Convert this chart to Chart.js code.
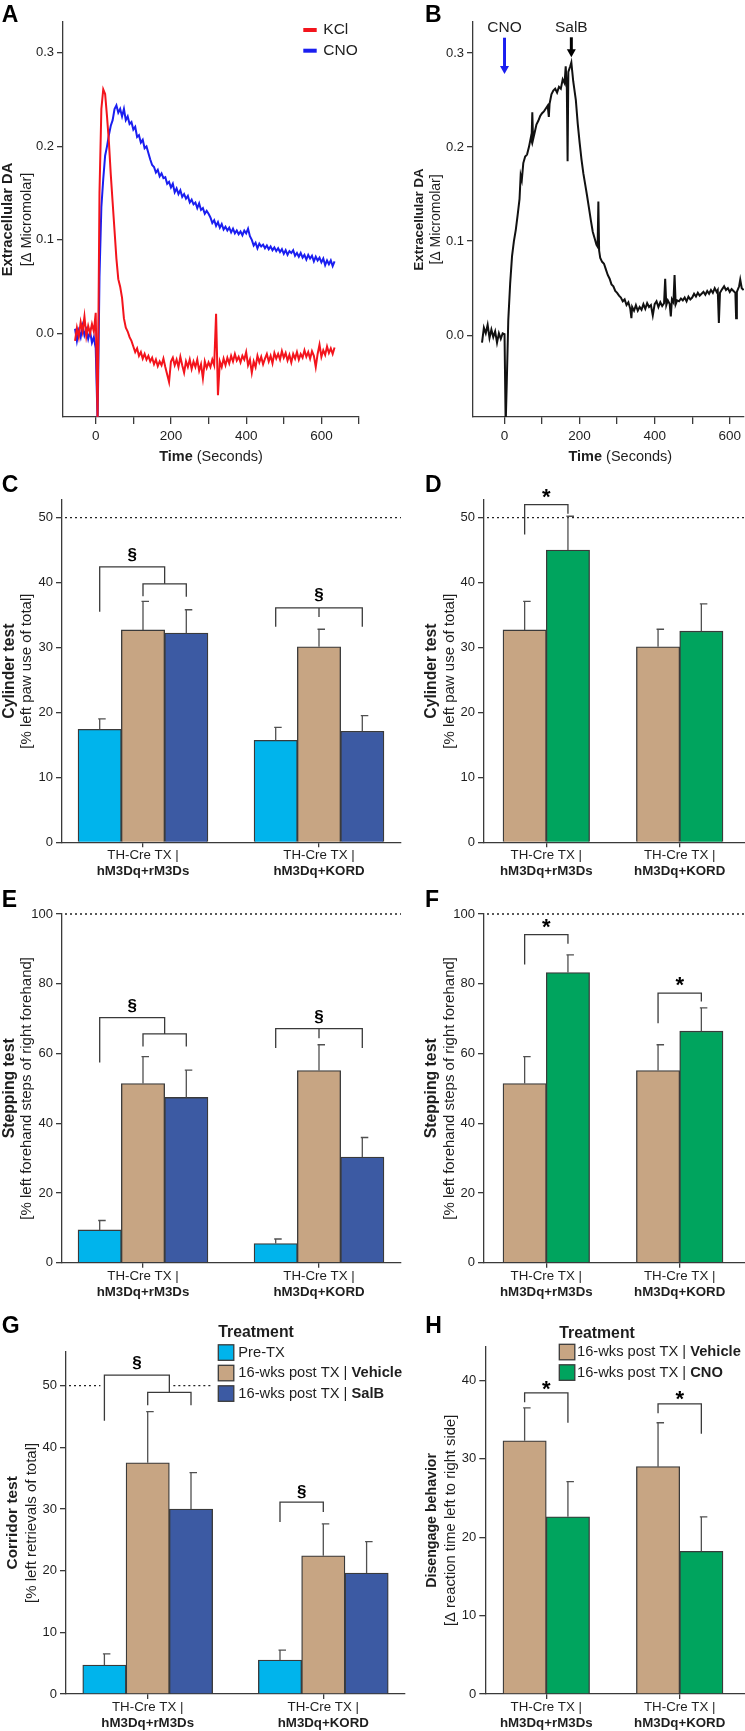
<!DOCTYPE html>
<html>
<head>
<meta charset="utf-8">
<title>Dopamine release and behaviour panels</title>
<script src="https://cdn.jsdelivr.net/npm/chart.js@4.4.1/dist/chart.umd.min.js"></script>
<style>
  html, body { margin: 0; padding: 0; background: #fff; }
  #page { position: relative; width: 745px; height: 1731px; overflow: hidden; background: #fff; }
  #page canvas { position: absolute; }
</style>
</head>
<body>
<div id="page"></div>
<script>
// ---- panel A: KCl vs CNO evoked DA (time in s, delta micromolar)
const aTime = [-55,-50,-45,-40,-35,-30,-25,-20,-15,-10,-5,0,5,10,15,20,25,30,35,40,45,50,55,60,65,70,75,80,85,90,95,100,105,110,115,120,125,130,135,140,145,150,155,160,165,170,175,180,185,190,195,200,205,210,215,220,225,230,235,240,245,250,255,260,265,270,275,280,285,290,295,300,305,310,315,320,325,330,335,340,345,350,355,360,365,370,375,380,385,390,395,400,405,410,415,420,425,430,435,440,445,450,455,460,465,470,475,480,485,490,495,500,505,510,515,520,525,530,535,540,545,550,555,560,565,570,575,580,585,590,595,600,605,610,615,620,625,630,635];
const kclDA = [-0.008,0.006,-0.004,0.012,0.002,0.018,-0.003,0.008,0.000,0.010,0.002,0.022,-0.095,0.150,0.240,0.261,0.256,0.232,0.205,0.170,0.140,0.110,0.080,0.058,0.050,0.038,0.016,0.006,0.002,-0.004,-0.008,-0.014,-0.020,-0.016,-0.024,-0.020,-0.027,-0.022,-0.028,-0.024,-0.030,-0.026,-0.033,-0.028,-0.035,-0.030,-0.034,-0.027,-0.036,-0.044,-0.052,-0.030,-0.026,-0.034,-0.028,-0.036,-0.025,-0.034,-0.042,-0.030,-0.036,-0.028,-0.038,-0.030,-0.036,-0.028,-0.040,-0.033,-0.048,-0.030,-0.037,-0.031,-0.036,-0.028,-0.034,0.021,-0.066,-0.030,-0.036,-0.027,-0.034,-0.026,-0.032,-0.024,-0.030,-0.022,-0.029,-0.025,-0.031,-0.024,-0.028,-0.020,-0.034,-0.028,-0.042,-0.030,-0.036,-0.024,-0.031,-0.025,-0.033,-0.027,-0.022,-0.030,-0.024,-0.032,-0.021,-0.027,-0.022,-0.028,-0.019,-0.026,-0.021,-0.029,-0.023,-0.031,-0.022,-0.027,-0.020,-0.028,-0.022,-0.026,-0.018,-0.025,-0.020,-0.027,-0.019,-0.024,-0.036,-0.022,-0.012,-0.025,-0.018,-0.023,-0.014,-0.021,-0.016,-0.022,-0.015];
const cnoDA = [0.005,-0.008,0.003,-0.004,0.008,-0.002,0.004,-0.006,0.002,-0.010,-0.004,-0.016,-0.095,0.060,0.135,0.165,0.190,0.200,0.212,0.222,0.228,0.240,0.244,0.236,0.240,0.232,0.240,0.228,0.232,0.224,0.226,0.218,0.221,0.210,0.212,0.204,0.207,0.198,0.200,0.193,0.186,0.180,0.178,0.172,0.175,0.168,0.171,0.166,0.167,0.160,0.162,0.156,0.160,0.151,0.155,0.149,0.153,0.146,0.149,0.144,0.147,0.140,0.143,0.138,0.140,0.134,0.139,0.132,0.134,0.128,0.131,0.128,0.124,0.118,0.121,0.115,0.119,0.113,0.117,0.111,0.114,0.110,0.113,0.108,0.112,0.107,0.110,0.106,0.109,0.105,0.110,0.107,0.112,0.104,0.100,0.094,0.097,0.091,0.096,0.093,0.095,0.091,0.094,0.090,0.093,0.089,0.092,0.088,0.091,0.087,0.090,0.085,0.089,0.084,0.088,0.086,0.089,0.083,0.086,0.082,0.086,0.081,0.084,0.079,0.084,0.080,0.083,0.077,0.082,0.078,0.081,0.076,0.080,0.073,0.078,0.074,0.078,0.072,0.077];

// ---- panel B: CNO then SalB
const bTime = [-60,-55,-50,-45,-40,-35,-30,-25,-20,-15,-10,-5,0,3,6,10,15,20,25,30,35,40,43,46,50,55,60,65,70,72,74,76,80,85,90,95,100,105,110,115,118,120,125,130,135,140,145,150,155,160,163,166,168,170,175,178,183,190,195,200,205,210,215,220,225,230,235,240,245,248,250,252,255,260,265,270,275,280,285,290,295,300,305,310,315,320,325,330,335,338,340,345,350,355,360,365,370,375,380,385,390,395,400,405,410,415,420,425,428,431,435,440,443,446,450,453,456,460,465,470,475,480,485,490,495,500,505,510,515,520,525,530,535,540,545,550,555,560,565,568,571,574,580,585,590,595,600,605,610,615,617,619,625,628,632,637];
const salbDA = [-0.008,0.008,0.002,0.011,-0.003,0.006,-0.002,0.004,-0.008,0.002,-0.004,0.002,0.001,-0.095,-0.050,0.016,0.055,0.084,0.100,0.112,0.128,0.145,0.170,0.165,0.183,0.190,0.192,0.200,0.210,0.207,0.237,0.208,0.215,0.224,0.228,0.233,0.236,0.238,0.241,0.244,0.232,0.246,0.256,0.260,0.262,0.258,0.264,0.262,0.272,0.268,0.286,0.262,0.185,0.280,0.286,0.290,0.270,0.250,0.225,0.205,0.187,0.172,0.160,0.148,0.135,0.122,0.110,0.103,0.096,0.094,0.142,0.090,0.082,0.078,0.076,0.070,0.064,0.060,0.054,0.052,0.047,0.045,0.042,0.040,0.036,0.038,0.032,0.035,0.028,0.018,0.030,0.026,0.032,0.026,0.030,0.027,0.033,0.028,0.034,0.030,0.032,0.021,0.033,0.036,0.030,0.035,0.031,0.034,0.060,0.032,0.037,0.033,0.020,0.038,0.035,0.064,0.033,0.037,0.036,0.039,0.037,0.040,0.036,0.041,0.038,0.040,0.044,0.041,0.045,0.042,0.044,0.046,0.043,0.047,0.044,0.048,0.045,0.050,0.046,0.048,0.013,0.045,0.049,0.052,0.048,0.050,0.046,0.049,0.047,0.045,0.018,0.046,0.052,0.059,0.050,0.048];
const injTimes = [0, 178];
const injLabels = ['CNO', 'SalB'];

// ---- behaviour panels
const groupPrefix = 'TH-Cre TX |';
const groupNames = ['hM3Dq+rM3Ds', 'hM3Dq+KORD'];
const legendTitle = 'Treatment';
const trtPre = 'Pre-TX';
const trtVeh = '16-wks post TX | Vehicle';
const trtSalB = '16-wks post TX | SalB';
const trtCno = '16-wks post TX | CNO';

const cylPre = [17.4, 15.7],  cylPreErr = [1.6, 2.0];
const cylVeh = [32.7, 30.1],  cylVehErr = [4.4, 2.7];
const cylSalB = [32.2, 17.1], cylSalBErr = [3.6, 2.4];
const cylCno = [45.0, 32.5],  cylCnoErr = [5.2, 4.2];

const stepPre = [9.4, 5.5],   stepPreErr = [2.7, 1.3];
const stepVeh = [51.4, 55.1], stepVehErr = [7.7, 7.4];
const stepSalB = [47.4, 30.3], stepSalBErr = [7.8, 5.6];
const stepCno = [83.2, 66.4], stepCnoErr = [5.1, 6.7];

const corPre = [4.7, 5.5],    corPreErr = [1.8, 1.6];
const corVeh = [37.5, 22.4],  corVehErr = [8.3, 5.2];
const corSalB = [30.0, 19.6], corSalBErr = [5.9, 5.1];

const disVeh = [32.3, 29.0],  disVehErr = [4.2, 5.6];
const disCno = [22.6, 18.2],  disCnoErr = [4.5, 4.4];

// ---- styling
const FONT = "'Liberation Sans', Arial, Helvetica, sans-serif";
const INK = '#1e1e1e';
const AXIS = '#3a3a3a';
const EDGE = '#3a3a3a';
const RED = '#f3141c';
const BLUE = '#1a1ef0';
const CYAN = '#00b4ec';
const TAN = '#c7a583';
const NAVY = '#3c5aa3';
const GREEN = '#00a45e';

// canvas frames [left, top, w, h] and plot areas [left, top, right, bottom] in page px
const frames = {
  cA: [0, 0, 420, 468],    cB: [410, 0, 335, 468],
  cC: [0, 468, 420, 417],  cD: [410, 468, 335, 417],
  cE: [0, 885, 420, 423],  cF: [410, 885, 335, 423],
  cG: [0, 1308, 420, 423], cH: [410, 1308, 335, 423]
};
const areas = {
  cA: [63, 22, 359, 417],     cB: [473, 22, 745, 417],
  cC: [62, 500, 401, 842.3],  cD: [484, 500, 745, 842.3],
  cE: [62, 914, 401, 1262.7], cF: [484, 914, 745, 1262.7],
  cG: [66, 1351.7, 404.7, 1694], cH: [485.3, 1346.7, 745, 1694]
};

const f = (size, bold) => (bold ? 'bold ' : '') + size + 'px ' + FONT;

function addCanvas(id) {
  const fr = frames[id];
  const c = document.createElement('canvas');
  c.id = id; c.width = fr[2]; c.height = fr[3];
  c.style.left = fr[0] + 'px'; c.style.top = fr[1] + 'px';
  c.style.width = fr[2] + 'px'; c.style.height = fr[3] + 'px';
  document.getElementById('page').appendChild(c);
  return c;
}

// the y axis box fills the whole left margin and the x axis box the bottom one
function common(id) {
  const fr = frames[id], a = areas[id];
  return {
    responsive: false, animation: false, devicePixelRatio: 1, events: [],
    layout: { autoPadding: false, padding: { left: 0, top: a[1] - fr[1], right: fr[0] + fr[2] - a[2], bottom: 0 } },
    plugins: { legend: { display: false }, tooltip: { enabled: false } }
  };
}
const leftW = id => areas[id][0] - frames[id][0];
const bottomH = id => frames[id][1] + frames[id][3] - areas[id][3];

function yAxis(id, min, max, step, fmt) {
  return {
    type: 'linear', position: 'left', min: min, max: max,
    afterFit: s => { s.width = leftW(id); },
    border: { display: true, color: AXIS, width: 1.3 },
    grid: { display: true, drawOnChartArea: false, drawTicks: true, tickLength: 6, color: AXIS, lineWidth: 1.3 },
    ticks: { stepSize: step, includeBounds: false, padding: 3, color: INK, font: { family: FONT, size: 13 }, callback: fmt || (v => String(v)) }
  };
}

function xTime(id, min, max) {
  return {
    type: 'linear', position: 'bottom', min: min, max: max,
    afterFit: s => { s.height = bottomH(id); },
    border: { display: true, color: AXIS, width: 1.3 },
    grid: { display: true, drawOnChartArea: false, drawTicks: true, tickLength: 7, color: AXIS, lineWidth: 1.3 },
    ticks: { stepSize: 100, includeBounds: false, autoSkip: false, maxRotation: 0, padding: 4, color: INK,
             font: { family: FONT, size: 13.5 }, callback: v => (v % 200 === 0 ? String(v) : '') }
  };
}

function xGroups(id, min, max) {
  return {
    type: 'linear', position: 'bottom', min: min, max: max, offset: false,
    afterFit: s => { s.height = bottomH(id); },
    border: { display: true, color: AXIS, width: 1.3 },
    grid: { display: true, offset: false, drawOnChartArea: false, drawTicks: true, tickLength: 5, color: AXIS, lineWidth: 1.3 },
    ticks: { stepSize: 1, includeBounds: false, autoSkip: false, maxRotation: 0, callback: () => '' }
  };
}

const pts = (xs, ys) => xs.map((x, i) => ({ x: x, y: ys[i] }));

function lineSet(label, xs, ys, color) {
  return { label: label, data: pts(xs, ys), borderColor: color, backgroundColor: color, borderWidth: 2, pointRadius: 0, tension: 0, fill: false };
}

function barSet(label, vals, color) {
  return { label: label, data: vals.map((v, i) => ({ x: i, y: v })), backgroundColor: color, borderColor: EDGE, borderWidth: 1.3, barThickness: 43.3 };
}

// ---- annotation drawing
const decor = {};

function barX(chart, ref) {
  const lo = Math.floor(ref[0]), hi = Math.ceil(ref[0]);
  const xl = chart.getDatasetMeta(lo).data[ref[1]].x;
  const xh = chart.getDatasetMeta(hi).data[ref[1]].x;
  return xl + (xh - xl) * (ref[0] - lo);
}

function richText(ctx, parts, x, y, align) {
  let w = 0;
  parts.forEach(p => { ctx.font = p[1]; w += ctx.measureText(p[0]).width; });
  let cx = align === 'center' ? x - w / 2 : x;
  ctx.textAlign = 'left';
  parts.forEach(p => { ctx.font = p[1]; ctx.fillText(p[0], cx, y); cx += ctx.measureText(p[0]).width; });
}

function labelParts(label, size) {
  const k = label.lastIndexOf('| ');
  if (k < 0) return [[label, f(size)]];
  return [[label.slice(0, k + 2), f(size)], [label.slice(k + 2), f(size, true)]];
}

function drawRefLine(chart, r) {
  const ctx = chart.ctx, a = chart.chartArea;
  const y = chart.scales.y.getPixelForValue(r.value);
  let segs = [[a.left + 3, a.right]];
  if (r.gap) segs = [[a.left + 3, barX(chart, r.gap[0]) - 4], [barX(chart, r.gap[1]) + 4, a.right]];
  ctx.save();
  ctx.strokeStyle = '#222'; ctx.lineWidth = 1.3; ctx.setLineDash([2, 3]);
  segs.forEach(s => { ctx.beginPath(); ctx.moveTo(s[0], y); ctx.lineTo(s[1], y); ctx.stroke(); });
  ctx.restore();
}

function drawErrors(chart, errs) {
  const ctx = chart.ctx, ys = chart.scales.y;
  ctx.save();
  ctx.strokeStyle = '#505050'; ctx.lineWidth = 1.3;
  errs.forEach((arr, di) => {
    const meta = chart.getDatasetMeta(di);
    arr.forEach((e, i) => {
      const bar = meta.data[i];
      const yt = ys.getPixelForValue(chart.data.datasets[di].data[i].y + e);
      ctx.beginPath();
      ctx.moveTo(bar.x, bar.y); ctx.lineTo(bar.x, yt);
      ctx.moveTo(bar.x - 1.5, yt); ctx.lineTo(bar.x + 6, yt);
      ctx.stroke();
    });
  });
  ctx.restore();
}

function drawBracket(chart, b) {
  const ctx = chart.ctx, ys = chart.scales.y;
  const py = v => ys.getPixelForValue(v);
  const xa = barX(chart, b.a), xb = barX(chart, b.b);
  ctx.strokeStyle = AXIS; ctx.lineWidth = 1.3; ctx.setLineDash([]);
  ctx.beginPath();
  ctx.moveTo(xa, py(b.ya)); ctx.lineTo(xa, py(b.top)); ctx.lineTo(xb, py(b.top)); ctx.lineTo(xb, py(b.yb));
  if (b.mid) { const xm = barX(chart, b.mid); ctx.moveTo(xm, py(b.top)); ctx.lineTo(xm, py(b.mid[2])); }
  ctx.stroke();
  if (b.sym) {
    const star = b.sym === '*';
    ctx.fillStyle = '#000';
    ctx.font = star ? f(22, true) : f(17, true);
    ctx.textAlign = 'center'; ctx.textBaseline = 'middle';
    ctx.fillText(b.sym, (xa + xb) / 2, py(b.symY) + (star ? 3.7 : 1));
  }
}

const decorPlugin = {
  id: 'decor',
  beforeDatasetsDraw(chart) {
    const d = decor[chart.canvas.id];
    if (d && d.refLine) drawRefLine(chart, d.refLine);
  },
  afterDatasetsDraw(chart) {
    const d = decor[chart.canvas.id];
    if (d && d.errors) drawErrors(chart, d.errors);
  },
  afterDraw(chart) {
    const d = decor[chart.canvas.id];
    if (!d) return;
    const ctx = chart.ctx, fr = frames[chart.canvas.id], area = chart.chartArea;
    ctx.save();
    if (d.brackets) d.brackets.forEach(b => drawBracket(chart, b));

    if (d.groups) {
      const xs = chart.scales.x;
      ctx.fillStyle = INK; ctx.textBaseline = 'middle';
      groupNames.forEach((g, i) => {
        const x = xs.getPixelForValue(i);
        richText(ctx, [[groupPrefix, f(13.3)]], x, area.bottom + 13.4, 'center');
        richText(ctx, [[g, f(13.3, true)]], x, area.bottom + 29.4, 'center');
      });
    }

    if (d.arrows) {
      const xs = chart.scales.x;
      injTimes.forEach((t, k) => {
        const a = d.arrows[k], x = xs.getPixelForValue(t);
        const top = a.top - fr[1], tip = a.tip - fr[1];
        ctx.strokeStyle = a.color; ctx.fillStyle = a.color; ctx.lineWidth = 3;
        ctx.beginPath(); ctx.moveTo(x, top); ctx.lineTo(x, tip - 6); ctx.stroke();
        ctx.beginPath(); ctx.moveTo(x - 4.5, tip - 8); ctx.lineTo(x + 4.5, tip - 8); ctx.lineTo(x, tip); ctx.closePath(); ctx.fill();
        ctx.fillStyle = INK; ctx.font = f(15.5); ctx.textAlign = 'center'; ctx.textBaseline = 'middle';
        ctx.fillText(injLabels[k], x, a.labelY - fr[1]);
      });
    }

    // page-anchored items
    ctx.translate(-fr[0], -fr[1]);
    if (d.letter) {
      ctx.fillStyle = '#000'; ctx.font = f(23, true); ctx.textAlign = 'left'; ctx.textBaseline = 'alphabetic';
      ctx.fillText(d.letter[0], d.letter[1], d.letter[2]);
    }
    if (d.yTitle) {
      const t = d.yTitle, cy = (area.top + area.bottom) / 2 + fr[1];
      [[t.bold, t.xb, f(t.fb, true)], [t.sub, t.xs, f(t.fs)]].forEach(p => {
        ctx.save(); ctx.translate(p[1], cy); ctx.rotate(-Math.PI / 2);
        ctx.fillStyle = INK; ctx.font = p[2]; ctx.textAlign = 'center'; ctx.textBaseline = 'middle';
        ctx.fillText(p[0], 0, 0); ctx.restore();
      });
    }
    if (d.xTitle) {
      ctx.fillStyle = INK; ctx.textBaseline = 'alphabetic';
      richText(ctx, [['Time', f(14.5, true)], [' (Seconds)', f(14.5)]], d.xTitle[0], d.xTitle[1], 'center');
    }
    if (d.lineLegend) {
      const L = d.lineLegend;
      chart.data.datasets.forEach((ds, k) => {
        ctx.strokeStyle = ds.borderColor; ctx.lineWidth = 4;
        ctx.beginPath(); ctx.moveTo(L.x0, L.ys[k]); ctx.lineTo(L.x1, L.ys[k]); ctx.stroke();
        ctx.fillStyle = INK; ctx.font = f(15.5); ctx.textAlign = 'left'; ctx.textBaseline = 'middle';
        ctx.fillText(ds.label, L.tx, L.ys[k]);
      });
    }
    if (d.legend) {
      const L = d.legend;
      if (L.bg) { ctx.fillStyle = '#fff'; ctx.fillRect(L.bg[0], L.bg[1], L.bg[2], L.bg[3]); }
      ctx.fillStyle = INK; ctx.font = f(15.8, true); ctx.textAlign = 'left'; ctx.textBaseline = 'middle';
      ctx.fillText(legendTitle, L.x, L.titleY);
      chart.data.datasets.forEach((ds, k) => {
        const y = L.ys[k];
        ctx.fillStyle = ds.backgroundColor; ctx.fillRect(L.x, y - 7.7, 15.5, 15.5);
        ctx.strokeStyle = EDGE; ctx.lineWidth = 1.3; ctx.strokeRect(L.x, y - 7.7, 15.5, 15.5);
        ctx.fillStyle = INK; ctx.textBaseline = 'middle';
        richText(ctx, labelParts(ds.label, 14.7), L.tx, y, 'left');
      });
    }
    ctx.restore();
  }
};
Chart.register(decorPlugin);

// ---- A
decor.cA = {
  letter: ['A', 1.7, 21.7],
  yTitle: { bold: 'Extracellular DA', sub: '[\u0394 Micromolar]', xb: 7.5, xs: 26.7, fb: 14.7, fs: 14.5 },
  xTitle: [211, 460.5],
  lineLegend: { x0: 303.3, x1: 316.7, tx: 323.3, ys: [30, 50.7] }
};
new Chart(addCanvas('cA'), {
  type: 'line',
  data: { datasets: [lineSet('KCl', aTime, kclDA, RED), lineSet('CNO', aTime, cnoDA, BLUE)] },
  options: Object.assign(common('cA'), { scales: { x: xTime('cA', -87, 700), y: yAxis('cA', -0.0894, 0.333, 0.1, v => v.toFixed(1)) } })
});

// ---- B
decor.cB = {
  letter: ['B', 425, 22],
  yTitle: { bold: 'Extracellular DA', sub: '[\u0394 Micromolar]', xb: 419.5, xs: 435.7, fb: 13.2, fs: 14 },
  xTitle: [620.3, 460.5],
  arrows: [{ color: BLUE, top: 37.7, tip: 74, labelY: 28 }, { color: '#000', top: 37.3, tip: 57.3, labelY: 28 }]
};
new Chart(addCanvas('cB'), {
  type: 'line',
  data: { datasets: [lineSet('SalB', bTime, salbDA, '#111')] },
  options: Object.assign(common('cB'), { scales: { x: xTime('cB', -84, 638), y: yAxis('cB', -0.087, 0.333, 0.1, v => v.toFixed(1)) } })
});

// ---- C
decor.cC = {
  letter: ['C', 1.7, 491.7],
  yTitle: { bold: 'Cylinder test', sub: '[% left paw use of total]', xb: 9.5, xs: 27, fb: 15.7, fs: 15 },
  refLine: { value: 50 },
  errors: [cylPreErr, cylVehErr, cylSalBErr],
  groups: true,
  brackets: [
    { a: [0, 0], ya: 35.5, b: [1.5, 0], yb: 39.8, top: 42.4, sym: '\u00a7', symY: 44.3 },
    { a: [1, 0], ya: 37.9, b: [2, 0], yb: 37.8, top: 39.8 },
    { a: [0, 1], ya: 33.2, b: [2, 1], yb: 33.2, top: 36.1, mid: [1, 1, 34.7], sym: '\u00a7', symY: 38.2 }
  ]
};
new Chart(addCanvas('cC'), {
  type: 'bar',
  data: { datasets: [barSet(trtPre, cylPre, CYAN), barSet(trtVeh, cylVeh, TAN), barSet(trtSalB, cylSalB, NAVY)] },
  options: Object.assign(common('cC'), { scales: { x: xGroups('cC', -0.4602, 1.4659), y: yAxis('cC', 0, 52.7, 10) } })
});

// ---- D
decor.cD = {
  letter: ['D', 425, 491.7],
  yTitle: { bold: 'Cylinder test', sub: '[% left paw use of total]', xb: 431.2, xs: 449.5, fb: 15.7, fs: 15 },
  refLine: { value: 50 },
  errors: [cylVehErr, cylCnoErr],
  groups: true,
  brackets: [{ a: [0, 0], ya: 47.4, b: [1, 0], yb: 50.6, top: 52.0, sym: '*', symY: 53.6 }]
};
new Chart(addCanvas('cD'), {
  type: 'bar',
  data: { datasets: [barSet(trtVeh, cylVeh, TAN), barSet(trtCno, cylCno, GREEN)] },
  options: Object.assign(common('cD'), { scales: { x: xGroups('cD', -0.467, 1.4895), y: yAxis('cD', 0, 52.7, 10) } })
});

// ---- E
decor.cE = {
  letter: ['E', 1.7, 907.3],
  yTitle: { bold: 'Stepping test', sub: '[% left forehand steps of right forehand]', xb: 9.2, xs: 27.2, fb: 15.8, fs: 15 },
  refLine: { value: 100 },
  errors: [stepPreErr, stepVehErr, stepSalBErr],
  groups: true,
  brackets: [
    { a: [0, 0], ya: 57.4, b: [1.5, 0], yb: 65.6, top: 70.3, sym: '\u00a7', symY: 73.8 },
    { a: [1, 0], ya: 62.0, b: [2, 0], yb: 62.0, top: 65.6 },
    { a: [0, 1], ya: 61.6, b: [2, 1], yb: 61.6, top: 67.1, mid: [1, 1, 64.4], sym: '\u00a7', symY: 70.6 }
  ]
};
new Chart(addCanvas('cE'), {
  type: 'bar',
  data: { datasets: [barSet(trtPre, stepPre, CYAN), barSet(trtVeh, stepVeh, TAN), barSet(trtSalB, stepSalB, NAVY)] },
  options: Object.assign(common('cE'), { scales: { x: xGroups('cE', -0.4602, 1.4659), y: yAxis('cE', 0, 100, 20) } })
});

// ---- F
decor.cF = {
  letter: ['F', 425, 907.3],
  yTitle: { bold: 'Stepping test', sub: '[% left forehand steps of right forehand]', xb: 431.5, xs: 450, fb: 15.8, fs: 15 },
  refLine: { value: 100 },
  errors: [stepVehErr, stepCnoErr],
  groups: true,
  brackets: [
    { a: [0, 0], ya: 85.5, b: [1, 0], yb: 91.5, top: 94.1, sym: '*', symY: 97.2 },
    { a: [0, 1], ya: 68.7, b: [1, 1], yb: 74.9, top: 77.3, sym: '*', symY: 80.4 }
  ]
};
new Chart(addCanvas('cF'), {
  type: 'bar',
  data: { datasets: [barSet(trtVeh, stepVeh, TAN), barSet(trtCno, stepCno, GREEN)] },
  options: Object.assign(common('cF'), { scales: { x: xGroups('cF', -0.467, 1.4895), y: yAxis('cF', 0, 100, 20) } })
});

// ---- G
decor.cG = {
  letter: ['G', 1.7, 1333.3],
  yTitle: { bold: 'Corridor test', sub: '[% left retrievals of total]', xb: 12.5, xs: 31.5, fb: 15.4, fs: 15 },
  refLine: { value: 50, gap: [[0, 0], [1.5, 0]] },
  errors: [corPreErr, corVehErr, corSalBErr],
  groups: true,
  brackets: [
    { a: [0, 0], ya: 44.3, b: [1.5, 0], yb: 48.9, top: 51.7, sym: '\u00a7', symY: 53.8 },
    { a: [1, 0], ya: 46.8, b: [2, 0], yb: 46.8, top: 48.9 },
    { a: [0, 1], ya: 27.9, b: [1, 1], yb: 29.5, top: 31.1, sym: '\u00a7', symY: 32.9 }
  ],
  legend: { x: 218.3, titleY: 1333, tx: 238.3, ys: [1352.5, 1373, 1393.5], bg: [213, 1318, 200, 88] }
};
new Chart(addCanvas('cG'), {
  type: 'bar',
  data: { datasets: [barSet(trtPre, corPre, CYAN), barSet(trtVeh, corVeh, TAN), barSet(trtSalB, corSalB, NAVY)] },
  options: Object.assign(common('cG'), { scales: { x: xGroups('cG', -0.4653, 1.4636), y: yAxis('cG', 0, 55.5, 10) } })
});

// ---- H
decor.cH = {
  letter: ['H', 425.3, 1333.3],
  yTitle: { bold: 'Disengage behavior', sub: '[\u0394 reaction time left to right side]', xb: 432, xs: 450.8, fb: 14.2, fs: 14.8 },
  errors: [disVehErr, disCnoErr],
  groups: true,
  brackets: [
    { a: [0, 0], ya: 37.2, b: [1, 0], yb: 34.6, top: 38.4, sym: '*', symY: 39.3 },
    { a: [0, 1], ya: 35.8, b: [1, 1], yb: 33.2, top: 37.0, sym: '*', symY: 38.0 }
  ],
  legend: { x: 559.3, titleY: 1333.3, tx: 577, ys: [1352, 1372.5] }
};
new Chart(addCanvas('cH'), {
  type: 'bar',
  data: { datasets: [barSet(trtVeh, disVeh, TAN), barSet(trtCno, disCno, GREEN)] },
  options: Object.assign(common('cH'), { scales: { x: xGroups('cH', -0.457, 1.4895), y: yAxis('cH', 0, 44.3, 10) } })
});
</script>
</body>
</html>
